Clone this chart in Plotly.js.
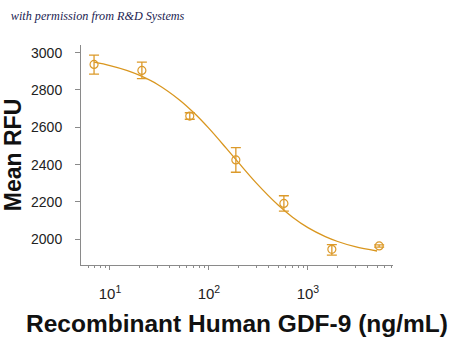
<!DOCTYPE html>
<html>
<head>
<meta charset="utf-8">
<script src="https://cdn.plot.ly/plotly-3.0.1.min.js"></script>
<style>html,body{margin:0;padding:0;background:#fff}#chart{width:450px;height:338px}</style>
</head>
<body>
<div id="chart"></div>
<script>
// Measured points (concentration ng/mL, mean RFU, error)
const concentration = [6.9, 21, 64, 187, 572, 1746, 5250];
const meanRFU = [2937, 2905, 2660, 2425, 2192, 1946, 1964];
const errPlus = [50, 44, 18, 66, 41, 25, 6];
const errMinus = [52, 44, 17, 66, 41, 31, 6];

// Fitted curve
const curveX = [6.9, 10, 15, 20, 30, 50, 70, 100, 150, 200, 300, 500, 700, 1000, 1500, 2000, 3000, 5000];
const curveY = [2949, 2931, 2904, 2878, 2831, 2748, 2679, 2594, 2487, 2409, 2302, 2183, 2118, 2062, 2014, 1988, 1960, 1937];

// Axis ticks
const yTicks = [2000, 2200, 2400, 2600, 2800, 3000];
const xMajor = [10, 100, 1000];
const xMajorText = ['10<sup>1</sup>', '10<sup>2</sup>', '10<sup>3</sup>'];
const xMinor = [6, 7, 8, 9, 20, 30, 40, 50, 60, 70, 80, 90, 200, 300, 400, 500, 600, 700, 800, 900, 2000, 3000, 4000, 5000, 6000, 7000];

const orange = '#dc9a2a';
const axisGray = '#8a8a8a';

const traces = [
  {
    x: curveX, y: curveY, type: 'scatter', mode: 'lines',
    line: {color: '#d9961e', width: 1.3, shape: 'spline'},
    hoverinfo: 'skip', showlegend: false
  },
  {
    x: concentration, y: meanRFU, type: 'scatter', mode: 'markers',
    marker: {symbol: 'circle-open', size: 8, color: orange, line: {width: 1.2, color: orange}},
    error_y: {type: 'data', symmetric: false, array: errPlus, arrayminus: errMinus,
              color: orange, thickness: 1.3, width: 5},
    showlegend: false
  }
];

const layout = {
  width: 450, height: 338,
  margin: {l: 81, r: 57, t: 45, b: 73},
  paper_bgcolor: '#ffffff', plot_bgcolor: '#ffffff',
  title: {
    text: '<i>with permission from R&amp;D Systems</i>',
    font: {family: 'Liberation Serif, serif', size: 12.2, color: '#1c2452'},
    x: 0.024, xanchor: 'left', xref: 'container',
    y: 0.952, yanchor: 'middle', yref: 'container'
  },
  xaxis: {
    type: 'log', range: [0.707, 3.86],
    showline: true, linecolor: axisGray, linewidth: 1,
    showgrid: false, zeroline: false,
    tickmode: 'array', tickvals: xMajor, ticktext: xMajorText,
    ticks: 'outside', ticklen: 4, tickcolor: axisGray, tickwidth: 1,
    ticklabelstandoff: 11,
    tickfont: {family: 'Liberation Sans Narrow, Arial Narrow, sans-serif', size: 15, color: '#222'},
    minor: {tickmode: 'array', tickvals: xMinor, ticks: 'outside', ticklen: 2, tickcolor: axisGray, tickwidth: 1, showgrid: false},
    title: {text: '<b>Recombinant Human GDF-9 (ng/mL)</b>', standoff: 13,
            font: {family: 'Liberation Sans, Arial, sans-serif', size: 24.5, color: '#111'}}
  },
  yaxis: {
    range: [1862, 3041],
    showline: true, linecolor: axisGray, linewidth: 1,
    showgrid: false, zeroline: false,
    tickmode: 'array', tickvals: yTicks,
    ticks: 'outside', ticklen: 5, tickcolor: axisGray, tickwidth: 1,
    ticklabelstandoff: 10,
    tickfont: {family: 'Liberation Sans Narrow, Arial Narrow, sans-serif', size: 14, color: '#222'},
    title: {text: '<b>Mean RFU</b>', standoff: 15,
            font: {family: 'Liberation Sans, Arial, sans-serif', size: 23, color: '#111'}}
  },
  showlegend: false
};

Plotly.newPlot('chart', traces, layout, {staticPlot: true, displayModeBar: false});
</script>
</body>
</html>
